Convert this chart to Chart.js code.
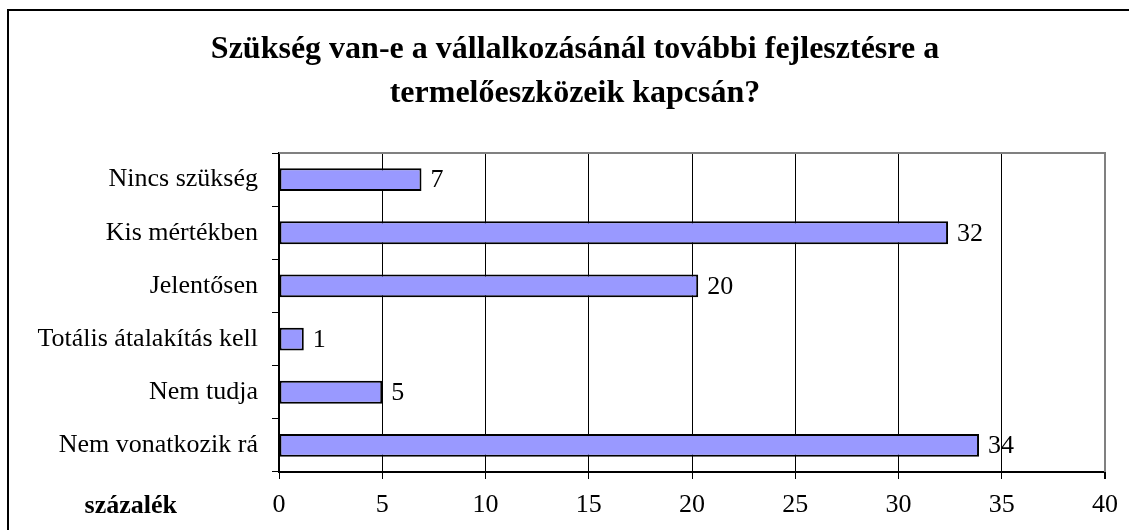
<!DOCTYPE html>
<html>
<head>
<meta charset="utf-8">
<script src="https://cdn.jsdelivr.net/npm/chart.js@4.4.1/dist/chart.umd.min.js"></script>
<style>
  html, body { margin: 0; padding: 0; background: #fff; }
  #wrap { width: 1129px; height: 530px; }
</style>
</head>
<body>
<div id="wrap"><canvas id="myChart" width="1129" height="530"></canvas></div>
<script>
const chartTitle = ['Szükség van-e a vállalkozásánál további fejlesztésre a', 'termelőeszközeik kapcsán?'];
const categories = ['Nincs szükség', 'Kis mértékben', 'Jelentősen', 'Totális átalakítás kell', 'Nem tudja', 'Nem vonatkozik rá'];
const values = [6.9, 32.4, 20.3, 1.2, 5.0, 33.9];
const valueLabels = ['7', '32', '20', '1', '5', '34'];
const xTicks = [0, 5, 10, 15, 20, 25, 30, 35, 40];
const xTitle = 'százalék';

const serif = "'Liberation Serif', 'Times New Roman', serif";

// outer frame, title, top/right plot border and the "százalék" caption
const framePlugin = {
  id: 'frame',
  beforeDraw(chart) {
    const c = chart.ctx;
    c.save();
    c.strokeStyle = '#000';
    c.lineWidth = 2;
    c.beginPath();
    c.moveTo(8, 531);
    c.lineTo(8, 10);
    c.lineTo(1130, 10);
    c.stroke();
    c.fillStyle = '#000';
    c.font = 'bold 32px ' + serif;
    c.textAlign = 'center';
    c.textBaseline = 'alphabetic';
    c.fillText(chartTitle[0], 575, 58);
    c.fillText(chartTitle[1], 575, 102);
    c.restore();
  },
  afterDraw(chart) {
    const a = chart.chartArea;
    const c = chart.ctx;
    c.save();
    c.strokeStyle = '#808080';
    c.lineWidth = 2;
    c.beginPath();
    c.moveTo(a.left, a.top);
    c.lineTo(a.right, a.top);
    c.lineTo(a.right, a.bottom);
    c.stroke();
    c.fillStyle = '#000';
    c.font = 'bold 26px ' + serif;
    c.textAlign = 'right';
    c.textBaseline = 'middle';
    c.fillText(xTitle, a.left - 102, a.bottom + 34);
    c.restore();
  }
};

// value labels right of the bars
const labelPlugin = {
  id: 'valueLabels',
  afterDatasetsDraw(chart) {
    const c = chart.ctx;
    c.save();
    c.fillStyle = '#000';
    c.font = '26px ' + serif;
    c.textAlign = 'left';
    c.textBaseline = 'middle';
    chart.getDatasetMeta(0).data.forEach((bar, i) => {
      c.fillText(valueLabels[i], bar.x + 9, bar.y + 1);
    });
    c.restore();
  }
};

const ctx = document.getElementById('myChart');

const chart = new Chart(ctx, {
  type: 'bar',
  data: {
    labels: categories,
    datasets: [{
      data: values,
      backgroundColor: '#9999FF',
      borderColor: '#000',
      borderWidth: 2,
      borderSkipped: false,
      barPercentage: 0.43,
      categoryPercentage: 1
    }]
  },
  options: {
    indexAxis: 'y',
    responsive: false,
    animation: false,
    layout: { padding: { left: 20, right: 24, top: 153, bottom: 0 } },
    plugins: {
      legend: { display: false },
      tooltip: { enabled: false },
      title: { display: false }
    },
    scales: {
      x: {
        min: 0,
        max: 40,
        afterBuildTicks(scale) {
          scale.ticks = xTicks.map(v => ({ value: v }));
        },
        afterFit(scale) { scale.height = 58; },
        grid: {
          color: c => (c.tick && c.tick.value === 40 ? '#808080' : '#000'),
          lineWidth: c => (c.tick && c.tick.value === 40 ? 2 : 1),
          tickColor: '#000',
          tickLength: 7
        },
        border: { color: '#000', width: 2 },
        ticks: { color: '#000', font: { family: serif, size: 26 }, padding: 11, maxRotation: 0 }
      },
      y: {
        afterFit(scale) { scale.width = 259; },
        grid: {
          drawOnChartArea: false,
          offset: true,
          tickColor: '#000',
          tickLength: 7,
          lineWidth: 1
        },
        border: { color: '#000', width: 2 },
        ticks: { color: '#000', font: { family: serif, size: 26 }, padding: 14 }
      }
    }
  },
  plugins: [framePlugin, labelPlugin]
});
</script>
</body>
</html>
